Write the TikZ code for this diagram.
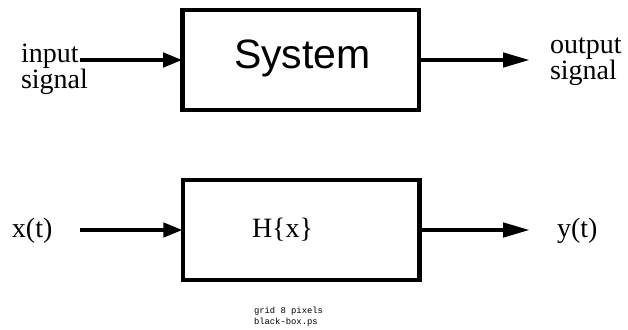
\documentclass[tikz,border=0pt]{standalone}
\usepackage{fontspec}
\setmainfont{Liberation Serif}
\newfontfamily\helvfont{Liberation Sans}
\newfontfamily\courfont{Liberation Mono}
\usetikzlibrary{arrows.meta}
\begin{document}
\begin{tikzpicture}[x=1pt,y=-1pt,
  blackbox/.style={draw, line width=4.5pt, minimum width=236.5pt, minimum height=100pt, inner sep=0pt, outer sep=0pt},
  lbl/.style={inner sep=0pt, outer sep=0pt, align=left, font=\fontsize{28}{26}\selectfont},
  syslbl/.style={inner sep=0pt, outer sep=0pt, font=\helvfont\fontsize{41}{41}\selectfont},
  smalllbl/.style={inner sep=0pt, outer sep=0pt, align=left, font=\courfont\fontsize{8.85}{10.5}\selectfont},
  sigin/.style={line width=4.5pt, -{Triangle[length=19.5pt,width=14pt]}},
  sigout/.style={line width=4.5pt, -{Triangle[length=27pt,width=14pt]}}]
\fill[white] (0,0) rectangle (628,329);
\useasboundingbox (0,0) rectangle (628,329);
% top
\node[blackbox] (sys) at (300.75,60) {};
\node[syslbl, anchor=base west] (systxt) at (234,68) {System};
\node[lbl, anchor=base west] (inlbl) at (21,88) {input\\signal};
\node[lbl, anchor=base west] (outlbl) at (550,79) {output\\signal};
\coordinate (instart) at (80,60);
\coordinate (outend) at (530,60);
\draw[sigin] (instart) -- (sys.west);
\draw[sigout] (sys.east) -- (outend);
% bottom
\node[blackbox] (hbox) at (301,230) {};
\node[lbl, anchor=base west] (htxt) at (252,237) {H\{x\}};
\node[lbl, anchor=base west] (xlbl) at (12,237) {x(t)};
\node[lbl, anchor=base west] (ylbl) at (557,237) {y(t)};
\coordinate (xstart) at (80,230);
\coordinate (yend) at (530,230);
\draw[sigin] (xstart) -- (hbox.west);
\draw[sigout] (hbox.east) -- (yend);
% caption
\node[smalllbl, anchor=base west] (cap) at (254,324) {grid 8 pixels\\black-box.ps};
\end{tikzpicture}
\end{document}
